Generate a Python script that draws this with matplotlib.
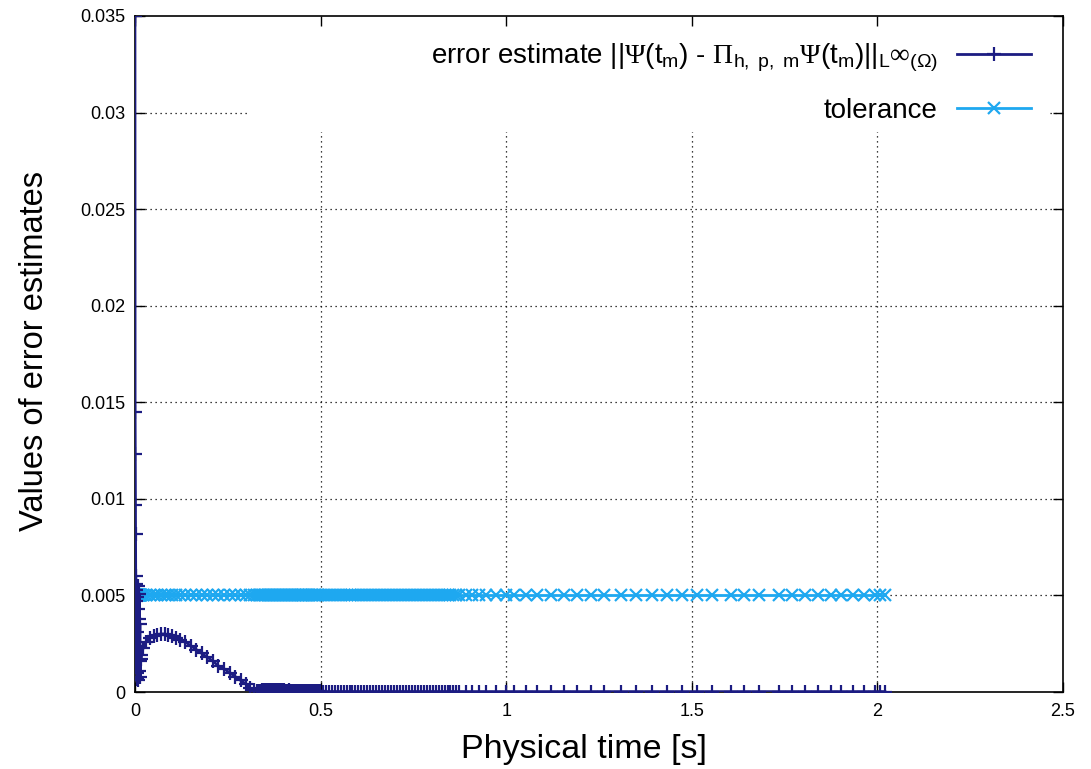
import numpy as np
import matplotlib
matplotlib.use('Agg')
import matplotlib.pyplot as plt
from matplotlib.patches import Rectangle
from matplotlib.ticker import FuncFormatter

plt.rcParams['font.family'] = ['Liberation Sans', 'DejaVu Sans']
plt.rcParams['mathtext.fontset'] = 'custom'
plt.rcParams['mathtext.rm'] = 'Liberation Serif'
plt.rcParams['mathtext.sf'] = 'Liberation Sans'
plt.rcParams['mathtext.it'] = 'Liberation Sans:italic'

# initial spike (first few time steps)
t_spike = [0.0, 0.0004, 0.0008, 0.0012, 0.0016, 0.002, 0.0026, 0.0032, 0.0038,
           0.0044, 0.005, 0.0057, 0.0064, 0.0071, 0.0078, 0.0085, 0.0092, 0.01,
           0.0108, 0.0116, 0.0124, 0.0132, 0.014, 0.015, 0.016]
err_spike = [0.035, 0.0145, 0.0123, 0.0097, 0.0082, 0.0060, 0.0056, 0.0053, 0.0047,
             0.0031, 0.0010, 0.0049, 0.0007, 0.0043, 0.0024, 0.0055, 0.0006, 0.0038,
             0.0011, 0.0051, 0.0016, 0.0035, 0.0008, 0.0019, 0.0017]

# hump
t_hump = [0.022, 0.03, 0.04, 0.05, 0.06, 0.07, 0.08, 0.09, 0.10, 0.11, 0.12, 0.135,
          0.15, 0.165, 0.18, 0.195, 0.21, 0.225, 0.24, 0.255, 0.27, 0.285, 0.30,
          0.31, 0.32, 0.33]
err_hump = [0.0023, 0.0026, 0.0028, 0.0029, 0.00297, 0.0030, 0.0030, 0.00295, 0.0029,
            0.0028, 0.0027, 0.0026, 0.0024, 0.0022, 0.0020, 0.0018, 0.0016, 0.00135,
            0.0012, 0.0010, 0.0008, 0.0006, 0.0004, 0.0002, 0.0001, 0.00004]

# dense small steps
t_flat1 = [0.334, 0.338, 0.342, 0.346, 0.350, 0.354, 0.358, 0.362, 0.366, 0.370,
           0.374, 0.378, 0.382, 0.386, 0.390, 0.394, 0.398, 0.402, 0.406, 0.410,
           0.414, 0.418, 0.422, 0.426, 0.430, 0.434, 0.438, 0.442, 0.446, 0.450,
           0.454, 0.458, 0.462, 0.466, 0.470, 0.474, 0.478, 0.482, 0.486, 0.490,
           0.494, 0.498]
err_flat1 = [0.00005, 0.00006, 0.00008, 0.00009, 0.0001, 0.0001, 0.00011, 0.0001,
             0.0001, 0.00009, 0.00009, 0.0001, 0.0001, 0.00009, 0.00008, 0.00008,
             0.00009, 0.00008, 0.00007, 0.00007, 0.00008, 0.00007, 0.00006, 0.00006,
             0.00007, 0.00006, 0.00006, 0.00005, 0.00006, 0.00005, 0.00005, 0.00005,
             0.00004, 0.00005, 0.00004, 0.00004, 0.00004, 0.00003, 0.00004, 0.00003,
             0.00003, 0.00003]

t_flat2 = [0.506, 0.514, 0.522, 0.530, 0.538, 0.546, 0.554, 0.562, 0.570, 0.578,
           0.586, 0.594, 0.602, 0.610, 0.618, 0.626, 0.634, 0.642, 0.650, 0.658,
           0.666, 0.674, 0.682, 0.690, 0.698, 0.706, 0.714, 0.722, 0.730, 0.738,
           0.746, 0.754, 0.762, 0.770, 0.778, 0.786, 0.794, 0.802, 0.810, 0.818,
           0.826, 0.834, 0.842, 0.850, 0.858, 0.866]
t_late = [0.874, 0.892, 0.909, 0.927, 0.946, 0.973, 1.000, 1.022, 1.054, 1.083,
          1.121, 1.156, 1.191, 1.228, 1.263, 1.309, 1.349, 1.392, 1.433, 1.473,
          1.513, 1.554, 1.605, 1.640, 1.680, 1.734, 1.769, 1.806, 1.841, 1.874,
          1.903, 1.935, 1.965, 1.994, 2.008, 2.02]
err_tail = 0.00002
tolerance = 0.005

time = np.array(t_spike + t_hump + t_flat1 + t_flat2 + t_late)
err = np.array(err_spike + err_hump + err_flat1
               + [err_tail] * (len(t_flat2) + len(t_late)))
tol = np.full(len(time), tolerance)

fig, ax = plt.subplots(figsize=(10.91, 7.69), dpi=100)
fig.subplots_adjust(left=0.1237, right=0.9743, bottom=0.1001, top=0.9792)

ax.set_xlim(0, 2.5)
ax.set_ylim(0, 0.035)
ax.set_xticks([0, 0.5, 1, 1.5, 2, 2.5])
ax.set_yticks([0, 0.005, 0.01, 0.015, 0.02, 0.025, 0.03, 0.035])
fmt = FuncFormatter(lambda v, p: '%g' % round(v, 6))
ax.xaxis.set_major_formatter(fmt)
ax.yaxis.set_major_formatter(fmt)

# dotted grid, drawn under the key's white box
for xv in ax.get_xticks()[1:-1]:
    ax.axvline(xv, color='black', lw=0.9, ls=(0, (1, 3)), zorder=0.3)
for yv in ax.get_yticks()[1:-1]:
    ax.axhline(yv, color='black', lw=0.9, ls=(0, (1, 3)), zorder=0.3)
ax.add_patch(Rectangle((0.124, 0.828), 0.862, 0.172, transform=ax.transAxes,
                       facecolor='white', edgecolor='none', zorder=0.4))

label = (r"error estimate $\mathsf{||}\Psi\mathsf{(t_m)}$ - $\Pi_{\mathsf{h,\ p,\ m}}"
         r"\Psi\mathsf{(t_m)||}_{\mathsf{L}}\infty_{\mathsf{(\Omega)}}$")
ax.plot(time, err, color='#1c1c82', lw=2, marker='+', ms=10, mew=1.6,
        label=label, zorder=3)
ax.plot(time, tol, color='#1ea8f0', lw=2, marker='x', ms=8, mew=1.6,
        label='tolerance', zorder=2.5)

ax.tick_params(direction='in', length=7, width=1, top=True, right=True,
               labelsize=13)
ax.tick_params(axis='y', pad=7)
ax.tick_params(axis='x', pad=8)
for s in ax.spines.values():
    s.set_linewidth(1.2)

ax.set_xlabel('Physical time [s]', fontsize=24.5)
ax.set_ylabel('Values of error estimates', fontsize=23.5)
ax.xaxis.set_label_coords(0.484, -0.062)
ax.yaxis.set_label_coords(-0.092, 0.505)

leg = ax.legend(loc='upper right', bbox_to_anchor=(0.9655, 0.962), frameon=False,
                markerfirst=False, fontsize=20, handlelength=2.65,
                labelspacing=0.85, borderaxespad=0, borderpad=0,
                handletextpad=0.7)

fig.savefig('out.png', dpi=100)
